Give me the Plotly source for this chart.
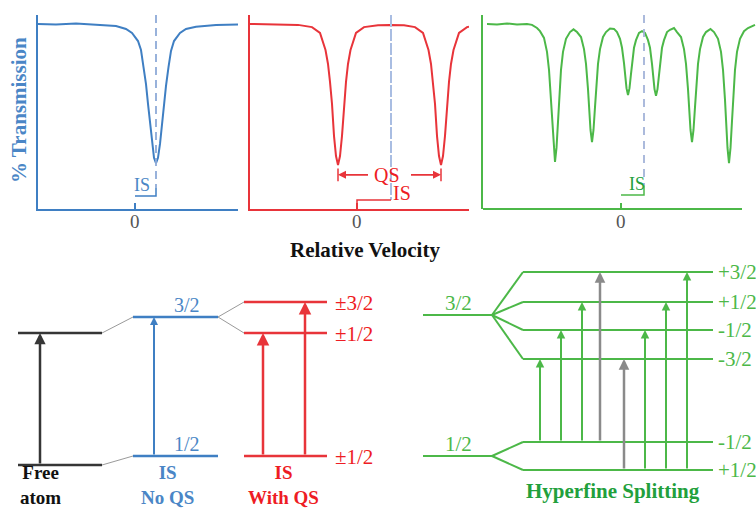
import plotly.graph_objects as go

W, H = 756, 509

# ---------------- data: Mössbauer spectra (velocity mm/s, % transmission) ----------------
single_vel = [-2.425, -1.975, -1.475, -0.975, -0.475, -0.225, -0.075, 0.075, 0.15, 0.2125,
              0.275, 0.325, 0.375, 0.425, 0.475, 0.525, 0.575, 0.625, 0.675, 0.725,
              0.775, 0.8375, 0.9, 0.975, 1.125, 1.275, 1.525, 2.025, 2.575]
single_trans = [100.0, 99.9, 100.1, 99.9, 99.55, 98.9, 98.0, 96.2, 94.2, 90.4,
                86.6, 82.2, 77.7, 73.3, 70.2, 69.0, 70.2, 73.3, 77.7, 82.2,
                86.2, 90.4, 94.0, 96.2, 98.0, 98.9, 99.4, 99.8, 99.9]

doublet_vel = [-2.675, -2.175, -1.675, -1.475, -1.125, -0.925, -0.7875, -0.725, -0.675, -0.625,
               -0.575, -0.525, -0.475, -0.425, -0.375, -0.325, -0.275, -0.225, -0.1625, -0.025,
               0.175, 0.525, 0.825, 1.175, 1.45, 1.65, 1.7875, 1.85, 1.9, 1.95,
               2.0, 2.05, 2.1, 2.15, 2.2, 2.25, 2.3, 2.35, 2.4125, 2.55, 2.75, 2.8]
doublet_trans = [100.0, 99.9, 99.85, 99.8, 99.3, 98.0, 94.2, 91.1, 87.1, 82.2,
                 75.1, 70.6, 68.6, 70.6, 75.1, 82.2, 87.1, 91.1, 94.2, 98.0,
                 99.3, 99.7, 99.8, 99.7, 99.3, 98.0, 94.2, 91.1, 87.1, 82.2,
                 75.1, 70.6, 68.6, 70.6, 75.1, 82.2, 87.1, 91.1, 94.2, 98.0, 99.3, 99.4]

sextet_vel = [-3.35, -3.1, -2.85, -2.6, -2.35, -2.225, -2.1, -2.025, -1.925, -1.85,
              -1.8, -1.75, -1.725, -1.6875, -1.65, -1.6125, -1.575, -1.55, -1.5, -1.45,
              -1.375, -1.275, -1.1875, -1.1, -1.0, -0.925, -0.875, -0.825, -0.8, -0.7625,
              -0.725, -0.6875, -0.65, -0.625, -0.575, -0.525, -0.45, -0.375, -0.275, -0.175,
              -0.1, -0.025, 0.025, 0.075, 0.1, 0.1375, 0.175, 0.2125, 0.25, 0.275,
              0.325, 0.375, 0.45, 0.525, 0.6, 0.675, 0.725, 0.775, 0.8, 0.8375,
              0.875, 0.9125, 0.95, 0.975, 1.025, 1.075, 1.15, 1.225, 1.325, 1.4,
              1.5, 1.575, 1.625, 1.675, 1.7, 1.7375, 1.775, 1.8125, 1.85, 1.875,
              1.925, 1.975, 2.05, 2.125, 2.2375, 2.325, 2.425, 2.5, 2.55, 2.6,
              2.625, 2.6625, 2.7, 2.7375, 2.775, 2.8, 2.85, 2.9, 2.975, 3.075,
              3.175, 3.35]
sextet_trans = [100.0, 99.9, 100.1, 99.9, 100.0, 99.8, 99.1, 98.4, 96.9, 93.8,
                89.8, 83.1, 78.4, 72.4, 69.3, 72.4, 78.4, 83.1, 89.8, 93.8,
                96.7, 98.2, 98.8, 98.2, 97.1, 94.4, 91.1, 85.5, 81.5, 76.4,
                73.7, 76.4, 81.5, 85.5, 91.1, 94.4, 97.1, 98.2, 99.0, 98.9,
                98.2, 96.7, 94.7, 91.3, 88.9, 85.7, 84.2, 85.7, 88.9, 91.3,
                94.7, 96.4, 98.0, 98.4, 98.0, 96.4, 94.7, 91.1, 88.6, 85.5,
                84.0, 85.5, 88.6, 91.1, 94.7, 96.4, 98.2, 98.7, 99.1, 98.2,
                97.1, 94.4, 91.1, 85.5, 81.5, 76.4, 73.7, 76.4, 81.5, 85.5,
                91.1, 94.4, 97.1, 98.2, 98.9, 98.2, 96.7, 93.8, 89.8, 83.1,
                78.4, 72.4, 69.0, 72.4, 78.4, 83.1, 89.8, 93.8, 96.7, 98.4,
                99.1, 99.8]

single_is = 0.525
doublet_is = 0.85
doublet_lines = [-0.475, 2.1]
sextet_is = 0.575
zero_tick = [0]
zero_text = ["0"]

# ---------------- data: energy levels (arbitrary energy units) ----------------
free_levels = [4.4, 17.6]            # ground, excited
is_levels = [5.3, 19.2]              # ground 1/2, excited 3/2
is_labels = ["1/2", "3/2"]
qs_ground = 5.3
qs_excited = [17.6, 20.7]            # ±1/2, ±3/2
qs_labels = ["±1/2", "±3/2"]
qs_ground_label = "±1/2"
hf_excited_centre = 19.4
hf_excited = [23.7, 20.7, 17.9, 15.0]
hf_excited_labels = ["+3/2", "+1/2", "-1/2", "-3/2"]
hf_ground_centre = 5.3
hf_ground = [6.7, 3.9]
hf_ground_labels = ["-1/2", "+1/2"]
# (ground index, excited index, allowed)
hf_transitions = [(0, 3, True), (0, 2, True), (0, 1, True), (0, 0, False),
                  (1, 3, False), (1, 2, True), (1, 1, True), (1, 0, True)]

# ---------------- styles / layout constants ----------------
BLUE = "#3f7fc3"
BLUE_TXT = "#4a86c6"
RED = "#e8343a"
RED_TXT = "#ee1c24"
GREEN = "#4cb848"
GREEN_TXT = "#22a03c"
BLACK = "#363636"
GREY = "#9a9a9a"
ARROW_GREY = "#8a8a8a"
DASH_BLUE = "#8eaad8"
SERIF = "Liberation Serif, Times New Roman, Times, serif"
YR = [58.8, 102.0]


def px(p):
    return p / W


def py(p):
    return 1 - p / H


fig = go.Figure()

# ---------------- top spectra ----------------
fig.add_trace(go.Scatter(x=single_vel, y=single_trans, xaxis="x", yaxis="y", mode="lines",
                         line=dict(color=BLUE, width=2)))
fig.add_trace(go.Scatter(x=doublet_vel, y=doublet_trans, xaxis="x2", yaxis="y2", mode="lines",
                         line=dict(color=RED, width=2)))
fig.add_trace(go.Scatter(x=sextet_vel, y=sextet_trans, xaxis="x3", yaxis="y3", mode="lines",
                         line=dict(color=GREEN, width=2)))

# isomer-shift dashed markers
fig.add_trace(go.Scatter(x=[single_is, single_is], y=[YR[1], 63.5], xaxis="x", yaxis="y", mode="lines",
                         line=dict(color=DASH_BLUE, width=1.8, dash="8px,5px")))
fig.add_trace(go.Scatter(x=[doublet_is, doublet_is], y=[YR[1], 60.8], xaxis="x2", yaxis="y2", mode="lines",
                         line=dict(color="#a9bde2", width=2, dash="12px,2px")))
fig.add_trace(go.Scatter(x=[sextet_is, sextet_is], y=[YR[1], 64.1], xaxis="x3", yaxis="y3", mode="lines",
                         line=dict(color="#a3b3d9", width=1.8, dash="8px,6px")))

# IS brackets
fig.add_trace(go.Scatter(x=[zero_tick[0], single_is, single_is], y=[61.7, 61.7, 63.5], xaxis="x", yaxis="y",
                         mode="lines", line=dict(color=BLUE, width=1.5)))
fig.add_trace(go.Scatter(x=[zero_tick[0], zero_tick[0], doublet_is], y=[59.9, 60.8, 60.8], xaxis="x2", yaxis="y2",
                         mode="lines", line=dict(color=RED, width=1.5)))
fig.add_trace(go.Scatter(x=[zero_tick[0], sextet_is, sextet_is], y=[61.9, 61.9, 64.1], xaxis="x3", yaxis="y3",
                         mode="lines", line=dict(color=GREEN, width=1.5)))

# QS end ticks
qs_y = 66.4
fig.add_trace(go.Scatter(x=[doublet_lines[0], doublet_lines[0], None, doublet_lines[1], doublet_lines[1]],
                         y=[65.0, 67.8, None, 65.0, 67.8], xaxis="x2", yaxis="y2", mode="lines",
                         line=dict(color=RED, width=1.5)))

# ---------------- bottom energy-level diagram ----------------
def seg_trace(segs, color, width):
    xs, ys = [], []
    for (x0, y0, x1, y1) in segs:
        xs += [x0, x1, None]
        ys += [y0, y1, None]
    return go.Scatter(x=xs, y=ys, xaxis="x4", yaxis="y4", mode="lines",
                      line=dict(color=color, width=width))


FREE_X = (18, 102)
IS_X = (133, 218)
QS_X = (244, 327)
HF_STUB = (423, 492)
HF_FAN = 523
HF_END = 713

# connectors
fig.add_trace(seg_trace([(FREE_X[1], free_levels[1], IS_X[0], is_levels[1]),
                         (FREE_X[1], free_levels[0], IS_X[0], is_levels[0]),
                         (IS_X[1], is_levels[1], QS_X[0], qs_excited[0]),
                         (IS_X[1], is_levels[1], QS_X[0], qs_excited[1])], GREY, 1))
fig.add_trace(seg_trace([(FREE_X[0], e, FREE_X[1], e) for e in free_levels], BLACK, 2.5))
fig.add_trace(seg_trace([(IS_X[0], e, IS_X[1], e) for e in is_levels], BLUE, 2.5))
fig.add_trace(seg_trace([(QS_X[0], e, QS_X[1], e) for e in [qs_ground] + qs_excited], RED, 2.5))

hf_segs = [(HF_STUB[0], hf_excited_centre, HF_STUB[1], hf_excited_centre),
           (HF_STUB[0], hf_ground_centre, HF_STUB[1], hf_ground_centre)]
for e in hf_excited:
    hf_segs.append((HF_STUB[1], hf_excited_centre, HF_FAN, e))
    hf_segs.append((HF_FAN, e, HF_END, e))
for e in hf_ground:
    hf_segs.append((HF_STUB[1], hf_ground_centre, HF_FAN, e))
    hf_segs.append((HF_FAN, e, HF_END, e))
fig.add_trace(seg_trace(hf_segs, GREEN, 2))

annotations = []


def arrow(x, y0, y1, color, width, size, xref="x4", yref="y4"):
    annotations.append(dict(x=x, y=y1, ax=x, ay=y0, xref=xref, yref=yref, axref=xref, ayref=yref,
                            text="", showarrow=True, arrowhead=2, arrowsize=size, arrowwidth=width,
                            arrowcolor=color, standoff=0, startstandoff=0))


def label(text, x, y, size, color, xref="paper", yref="paper", xanchor="center", yshift=0, bold=False):
    annotations.append(dict(x=x, y=y, xref=xref, yref=yref, text=("<b>%s</b>" % text) if bold else text,
                            showarrow=False, xanchor=xanchor, yanchor="middle", yshift=yshift,
                            font=dict(family=SERIF, size=size, color=color)))


# level-diagram arrows
arrow(40, free_levels[0], free_levels[1], BLACK, 2.5, 0.9)
arrow(154, is_levels[0], is_levels[1], BLUE, 2, 0.8)
arrow(263, qs_ground, qs_excited[0], RED, 2.5, 1.0)
arrow(305, qs_ground, qs_excited[1], RED, 2.5, 1.0)
HF_ARROW_X = [540, 561, 582, 600, 624, 645, 666, 687]
for xa, (g, e, ok) in zip(HF_ARROW_X, hf_transitions):
    arrow(xa, hf_ground[g], hf_excited[e], GREEN if ok else ARROW_GREY, 2 if ok else 2.5, 0.85)

# QS double arrow in the red spectrum
qs_mid = (doublet_lines[0] + doublet_lines[1]) / 2
arrow(doublet_lines[0], qs_y, qs_y, RED, 1.6, 1.0, "x2", "y2")
annotations[-1]["ax"] = qs_mid - 0.5
arrow(doublet_lines[1], qs_y, qs_y, RED, 1.6, 1.0, "x2", "y2")
annotations[-1]["ax"] = qs_mid + 0.5
label("QS", qs_mid - 0.06, qs_y, 20, RED_TXT, "x2", "y2")

# IS labels on spectra
label("IS", single_is / 2 - 0.08, 61.7, 18, BLUE_TXT, "x", "y", yshift=11)
label("IS", doublet_is, 60.8, 20, RED_TXT, "x2", "y2", xanchor="left", yshift=7)
label("IS", sextet_is / 2 + 0.1, 61.9, 18, GREEN_TXT, "x3", "y3", yshift=11)

# zero-velocity tick labels
label(zero_text[0], zero_tick[0], YR[0], 19, "#555555", "x", "y", yshift=-12)
label(zero_text[0], zero_tick[0], YR[0], 19, "#555555", "x2", "y2", yshift=-12)
label(zero_text[0], zero_tick[0], YR[0], 19, "#555555", "x3", "y3", yshift=-12)

# level labels
label(is_labels[1], 187, is_levels[1], 20, BLUE_TXT, "x4", "y4", yshift=12)
label(is_labels[0], 187, is_levels[0], 20, BLUE_TXT, "x4", "y4", yshift=12)
for t, e in zip(qs_labels, qs_excited):
    label(t, 333, e, 21, RED_TXT, "x4", "y4", xanchor="left", yshift=-1)
label(qs_ground_label, 333, qs_ground, 21, RED_TXT, "x4", "y4", xanchor="left", yshift=-1)
label("3/2", 458, hf_excited_centre, 21, GREEN, "x4", "y4", yshift=12)
label("1/2", 458, hf_ground_centre, 21, GREEN, "x4", "y4", yshift=12)
for t, e in zip(hf_excited_labels + hf_ground_labels, hf_excited + hf_ground):
    label(t, 716, e, 21, GREEN, "x4", "y4", xanchor="left")

# titles / captions
label("% Transmission", px(19), py(110), 21, BLUE_TXT, bold=True)
annotations[-1]["textangle"] = -90
label("Relative Velocity", px(365), py(250), 21, "#111111", bold=True)
label("<b>Free</b><br><b>atom</b>", px(40), py(484.5), 19, "#111111")
label("<b>IS</b><br><b>No QS</b>", px(167), py(484.5), 19, BLUE_TXT)
label("<b>IS</b><br><b>With QS</b>", px(283), py(484.5), 19, RED_TXT)
label("Hyperfine Splitting", px(613), py(491), 21, GREEN_TXT, bold=True)

# ---------------- axes ----------------
def xax(dom, rng, color, showline=True):
    return dict(domain=dom, range=rng, showline=showline, linecolor=color, linewidth=2,
                tickvals=zero_tick, ticktext=zero_text, ticks="inside", ticklen=6, tickwidth=1.5,
                tickcolor=color, showgrid=False, zeroline=False, fixedrange=True,
                showticklabels=False)


def yax(anchor, color):
    return dict(domain=[py(209), py(15)], range=YR, showline=True, linecolor=color, linewidth=2,
                showticklabels=False, ticks="", showgrid=False, zeroline=False, anchor=anchor)


fig.update_layout(
    width=W, height=H, margin=dict(l=0, r=0, t=0, b=0),
    paper_bgcolor="white", plot_bgcolor="rgba(0,0,0,0)", showlegend=False,
    font=dict(family=SERIF),
    xaxis=dict(**xax([px(38), px(238)], [-2.425, 2.575], BLUE), anchor="y"),
    yaxis=yax("x", BLUE),
    xaxis2=dict(**xax([px(250), px(469)], [-2.675, 2.8], RED), anchor="y2"),
    yaxis2=yax("x2", RED),
    xaxis3=dict(**xax([px(483), 1.0], [-3.45, 3.375], GREEN, showline=False), anchor="y3"),
    yaxis3=yax("x3", GREEN),
    xaxis4=dict(domain=[0, 1], range=[0, W], visible=False, anchor="y4"),
    yaxis4=dict(domain=[0, py(250)], range=[0, 25.9], visible=False, anchor="x4"),
    annotations=annotations,
    shapes=[dict(type="line", xref="x3 domain", yref="y3 domain", x0=0, x1=(742 - 483) / (W - 483),
                 y0=0, y1=0, line=dict(color=GREEN, width=2))],
)

fig.write_html("out.html")
